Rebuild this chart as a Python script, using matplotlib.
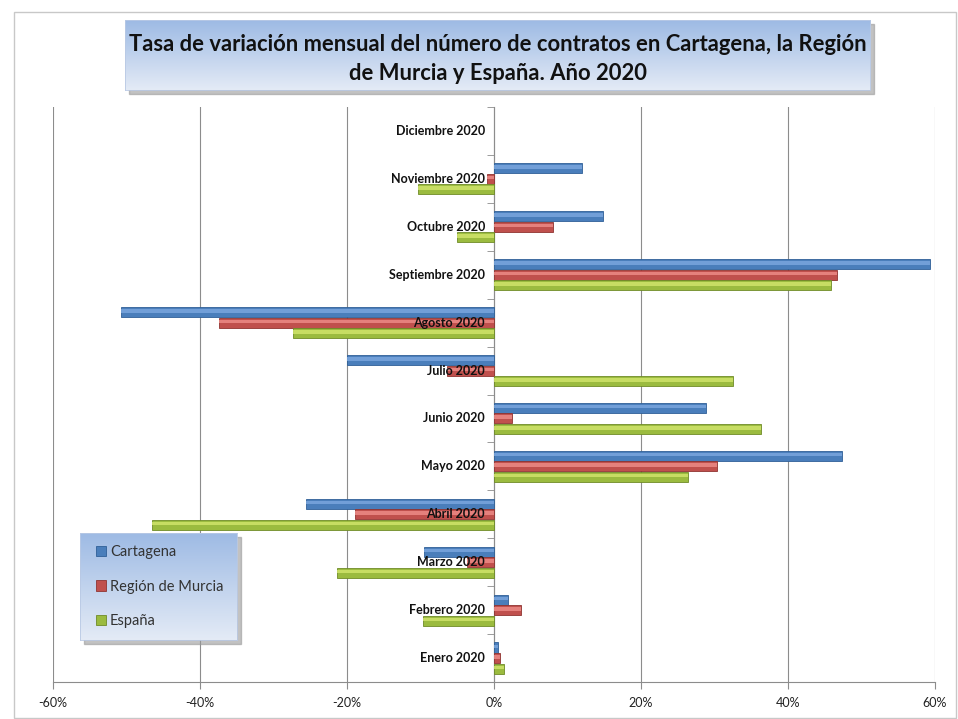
import numpy as np
import matplotlib
matplotlib.use("Agg")
import matplotlib.pyplot as plt
from matplotlib.patches import Rectangle, Patch
from matplotlib.transforms import offset_copy
from matplotlib.colors import LinearSegmentedColormap

plt.rcParams['font.family'] = ['Lato', 'DejaVu Sans']

months = ["Enero 2020", "Febrero 2020", "Marzo 2020", "Abril 2020", "Mayo 2020",
          "Junio 2020", "Julio 2020", "Agosto 2020", "Septiembre 2020",
          "Octubre 2020", "Noviembre 2020", "Diciembre 2020"]
# Diciembre 2020 has no data (no bars drawn)
cartagena = [0.5, 1.9, -9.5, -25.6, 47.3, 28.8, -20.0, -50.7, 59.3, 14.8, 12.0, None]
region = [0.8, 3.7, -3.7, -18.9, 30.3, 2.4, -6.4, -37.4, 46.7, 8.0, -0.9, None]
espana = [1.4, -9.7, -21.4, -46.5, 26.4, 36.3, 32.5, -27.3, 45.9, -5.0, -10.3, None]
series_names = ["Cartagena", "Región de Murcia", "España"]
xticks = [-60, -40, -20, 0, 20, 40, 60]
title = "Tasa de variación mensual del número de contratos en Cartagena, la Región\nde Murcia y España. Año 2020"

W, H = 958, 719
fig = plt.figure(figsize=(W / 100, H / 100), dpi=100)
fig.patch.set_facecolor('white')

def fx(px):
    return px / W

def fy(py):
    return 1 - py / H

# chart border
fig.add_artist(Rectangle((fx(14), fy(718)), fx(942), fy(12) - fy(718),
                         transform=fig.transFigure, fill=False,
                         edgecolor='#c8c8c8', lw=1.0))

# main axes
left, right, top, bottom = 53, 935, 107, 682
ax = fig.add_axes([fx(left), fy(bottom), fx(right - left), fy(top) - fy(bottom)])

y = np.arange(len(months))
h = 0.21
off = 0.22
cols = [("#4a7ebb", "#7aa6de", "#2f5f97"),
        ("#c0504d", "#ec8a86", "#8f3431"),
        ("#9bbb3f", "#cfe46a", "#6f8b27")]
data = [cartagena, region, espana]
offsets = [off, 0, -off]
handles = []
for vals, o, (c, hl, ed), name in zip(data, offsets, cols, series_names):
    vals = np.array([np.nan if v is None else v for v in vals], dtype=float)
    ax.barh(y + o, vals, height=h, color=c, edgecolor=ed, linewidth=0.6, zorder=3)
    ax.barh(y + o + h * 0.12, vals, height=h * 0.35, color=hl, edgecolor='none',
            linewidth=0, zorder=3.5, alpha=0.85)
    handles.append(Patch(facecolor=c, edgecolor=ed, linewidth=0.6, label=name))

ax.set_xlim(-60, 60)
ax.set_ylim(-0.5, len(months) - 0.5)
ax.set_xticks(xticks)
ax.set_xticklabels([f"{v}%" for v in xticks], fontsize=9, color='#222222')
ax.grid(axis='x', color='#8c8c8c', lw=0.8, zorder=0)
ax.set_axisbelow(True)

for s in ['top', 'right']:
    ax.spines[s].set_visible(False)
ax.spines['left'].set_position(('data', 0))
ax.spines['left'].set_color('#8c8c8c')
ax.spines['left'].set_zorder(2)
ax.spines['bottom'].set_color('#8c8c8c')
ax.set_yticks(y)
ax.set_yticklabels([])
ax.tick_params(axis='y', length=0)
ax.set_yticks(np.arange(-0.5, len(months)), minor=True)
ax.tick_params(axis='y', which='minor', length=5, color='#8c8c8c', direction='out')
ax.tick_params(axis='x', length=5, color='#8c8c8c', direction='out', pad=6)

tr = offset_copy(ax.transData, fig=fig, x=-9, y=0, units='dots')
for yi, lab in zip(y, months):
    ax.text(0, yi, lab, transform=tr, ha='right', va='center', fontsize=9,
            fontweight='bold', color='#111111', zorder=10)

# vertical gradient: first row is the top
grad = np.linspace(1, 0, 256).reshape(-1, 1)
cmap = LinearSegmentedColormap.from_list('g', ['#e4ebf6', '#9dbae4'])

# title box with shadow
tx0, tx1, ty0, ty1 = 125, 870, 20, 90
fig.add_artist(Rectangle((fx(tx0 + 4), fy(ty1 + 4)), fx(tx1 - tx0), fy(ty0) - fy(ty1),
                         transform=fig.transFigure, color='#9a9a9a', alpha=0.6, zorder=1))
tax = fig.add_axes([fx(tx0), fy(ty1), fx(tx1 - tx0), fy(ty0) - fy(ty1)], zorder=2)
tax.imshow(grad, aspect='auto', cmap=cmap, vmin=0, vmax=1, origin='upper',
           extent=[0, 1, 0, 1])
tax.set_xlim(0, 1); tax.set_ylim(0, 1)
tax.set_xticks([]); tax.set_yticks([])
for s in tax.spines.values():
    s.set_edgecolor('#b9c9e4'); s.set_linewidth(0.6)
tax.text(0.5, 0.44, title, ha='center', va='center', fontsize=15.8,
         fontweight='bold', color='#111111', linespacing=1.45, transform=tax.transAxes)

# legend box with shadow
lx0, lx1, ly0, ly1 = 80, 237, 533, 640
fig.add_artist(Rectangle((fx(lx0 + 4), fy(ly1 + 4)), fx(lx1 - lx0), fy(ly0) - fy(ly1),
                         transform=fig.transFigure, color='#9a9a9a', alpha=0.6, zorder=3))
lax = fig.add_axes([fx(lx0), fy(ly1), fx(lx1 - lx0), fy(ly0) - fy(ly1)], zorder=4)
lax.imshow(grad, aspect='auto', cmap=cmap, vmin=0, vmax=1, origin='upper',
           extent=[0, 1, 0, 1])
lax.set_xlim(0, 1); lax.set_ylim(0, 1)
lax.set_xticks([]); lax.set_yticks([])
for s in lax.spines.values():
    s.set_edgecolor('#b9c9e4'); s.set_linewidth(0.6)
lax.legend(handles=handles, loc='center left', bbox_to_anchor=(16 / 157, 0.5),
           frameon=False, fontsize=10.5,
           handlelength=0.7, handleheight=0.7, handletextpad=0.25,
           labelspacing=1.4, borderaxespad=0, borderpad=0, labelcolor='#333333')

fig.savefig("out.png", dpi=100)
